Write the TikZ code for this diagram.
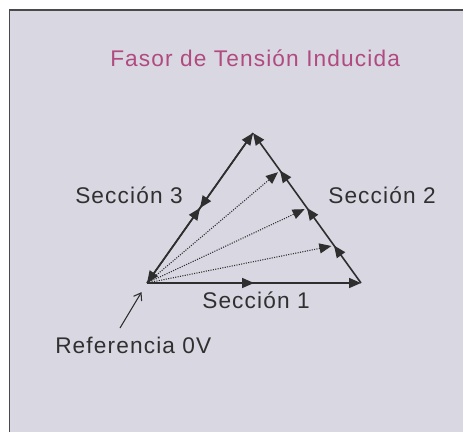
\documentclass[tikz,border=0pt]{standalone}
\usepackage{fontspec}
\setmainfont{Liberation Sans}[LetterSpace=5]
\usetikzlibrary{arrows.meta,decorations.markings}
\definecolor{panelbg}{HTML}{D9D7E2}
\definecolor{framegray}{HTML}{4A4A4A}
\definecolor{linegray}{HTML}{2E2E2E}
\definecolor{titlepink}{HTML}{B04A80}
\definecolor{labelgray}{HTML}{303030}

\begin{document}
\begin{tikzpicture}[x=0.75pt,y=-0.75pt,
    lbl/.style={font=\fontsize{17}{20}\selectfont,text=labelgray,anchor=base west,inner sep=0pt},
    side/.style={draw=linegray,line width=1.2pt},
    tipend/.style={-{Triangle[length=9pt,width=7.5pt]}},
    ray/.style={draw=linegray,line width=0.8pt,densely dotted,shorten >=2pt,-{Triangle[length=9pt,width=7.5pt]}},
    pointer/.style={draw=linegray,line width=0.8pt,shorten >=8pt,-{Straight Barb[length=5pt,width=7pt]}}]
            % panel
            \useasboundingbox (0,0) rectangle (463,432);
            \fill[panelbg] (9.5,10) rectangle (463,432);
            \draw[framegray,line width=1.4pt] (9.5,432) -- (9.5,10) -- (463,10);
            % corners of the triangle
            \coordinate (O) at (147,283);
            \coordinate (B) at (361,283);
            \coordinate (A) at (253,133);
            \path (B) -- (A) coordinate[pos=0.25] (q1) coordinate[pos=0.5] (q2) coordinate[pos=0.75] (q3);
            % sides
            \draw[side,tipend,postaction={decorate},decoration={markings,mark=at position 0.5 with {\arrow{Triangle[length=9pt,width=7.5pt]}}}] (O) -- (B);
            \draw[side,tipend,postaction={decorate},decoration={markings,
                mark=at position 0.25 with {\arrow{Triangle[length=9pt,width=7.5pt]}},
                mark=at position 0.5 with {\arrow{Triangle[length=9pt,width=7.5pt]}},
                mark=at position 0.75 with {\arrow{Triangle[length=9pt,width=7.5pt]}}}] (B) -- (A);
            \draw[side,tipend,postaction={decorate},decoration={markings,mark=at position 0.5 with {\arrow{Triangle[length=9pt,width=7.5pt]}}}] (O) -- (A);
            \draw[side,tipend,postaction={decorate},decoration={markings,mark=at position 0.5 with {\arrow{Triangle[length=9pt,width=7.5pt]}}}] (A) -- (O);
            % dotted phasors
            \draw[ray] (O) -- (q1);
            \draw[ray] (O) -- (q2);
            \draw[ray] (O) -- (q3);
            % texts
            \node[lbl,text=titlepink] (title) at (110,66) {Fasor de Tensión Inducida};
            \node[lbl] (sec3) at (75,203) {Sección 3};
            \node[lbl] (sec2) at (328,203) {Sección 2};
            \node[lbl] (sec1) at (202,308) {Sección 1};
            \node[lbl] (ref) at (55,353) {Referencia 0V};
            \coordinate (ptr) at (120,328);
            \draw[pointer] (ptr) -- (O);
        \end{tikzpicture}
\end{document}
